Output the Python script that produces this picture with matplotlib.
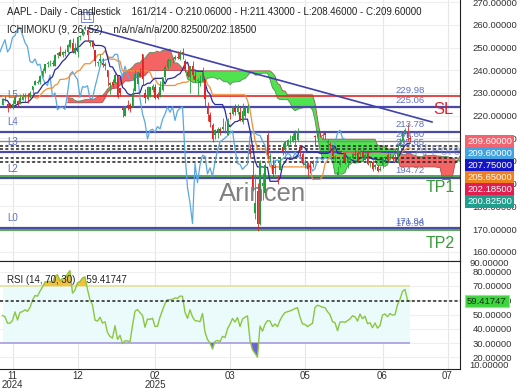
import numpy as np
import pandas as pd
import matplotlib
matplotlib.use('Agg')
import matplotlib.pyplot as plt

plt.rcParams['font.family'] = ['Liberation Sans', 'DejaVu Sans']

# AAPL daily bars, 2024-11-07 .. 2025-07-08
opens = [224.6, 227.2, 225.0, 224.6, 224.0, 225.0, 226.4, 225.3, 226.9, 228.1, 228.9, 228.1, 231.5, 233.3, 234.5, 234.8,
         237.3, 239.8, 242.9, 243.0, 242.9, 241.8, 246.9, 247.9, 246.9, 247.8, 247.9, 250.1, 252.2, 247.5, 248.0, 254.8, 255.5, 258.2, 257.8, 252.2, 252.4,
         248.9, 243.4, 244.3, 243.0, 241.9, 240.0, 233.5, 234.8, 234.6, 237.4, 232.1, 224.0, 219.8, 224.7, 224.8, 224.0, 230.9, 234.1, 238.7, 247.2,
         230.0, 227.3, 228.5, 231.3, 232.6, 229.6, 228.2, 231.2, 236.9, 241.3, 244.2, 244.7, 244.9, 246.0, 244.9, 248.0, 244.3, 239.4, 237.0,
         241.8, 237.7, 235.4, 234.4, 235.1, 235.5, 223.8, 220.1, 216.0, 211.3, 213.3, 214.2, 214.2, 214.0, 211.6, 221.0, 220.8, 223.5, 221.4, 221.7, 217.0,
         219.8, 221.3, 205.5, 193.9, 177.2, 186.7, 172.0, 189.1, 186.1, 211.4, 201.9, 198.4, 197.2, 193.3, 196.1, 206.0, 204.9, 206.4, 210.0, 208.7, 209.3,
         209.1, 206.1, 203.1, 198.2, 199.2, 197.7, 199.0, 211.0, 210.4, 212.4, 211.0, 212.4, 207.9, 207.7, 205.2, 200.7, 193.7, 198.3, 200.6, 203.6, 199.4,
         200.3, 201.4, 202.9, 203.5, 203.0, 204.4, 200.6, 203.5, 199.1, 199.7, 197.3, 197.2, 195.9, 198.2, 201.6, 202.6, 201.5, 201.4, 201.9, 202.0,
         206.7, 208.9, 212.1, 212.7, 210.06]
highs = [227.9, 228.7, 225.7, 225.6, 226.7, 228.9, 226.9, 229.7, 230.2, 229.9, 230.2, 230.7, 233.2, 235.6, 235.7, 237.8,
         240.8, 242.8, 244.1, 244.5, 244.6, 247.2, 248.2, 250.8, 248.7, 249.3, 251.4, 253.8, 254.3, 252.0, 255.0, 255.7, 258.2, 260.1, 258.7, 253.5, 253.3,
         249.1, 244.2, 247.3, 245.6, 243.7, 240.2, 234.7, 236.1, 239.0, 238.0, 232.3, 224.4, 224.1, 227.0, 225.6, 232.2, 240.2, 239.9, 240.8, 247.2,
         231.8, 233.1, 232.7, 233.8, 234.0, 230.6, 235.2, 237.0, 242.3, 245.6, 245.2, 246.0, 246.8, 248.7, 248.9, 250.0, 245.0, 242.5, 242.1,
         244.0, 240.1, 236.6, 237.9, 241.4, 236.2, 225.8, 221.8, 216.8, 214.0, 215.2, 215.2, 218.8, 217.5, 218.8, 221.5, 224.1, 225.0, 225.0, 223.8, 225.6,
         223.7, 225.2, 207.5, 199.9, 194.2, 190.3, 200.6, 194.8, 199.5, 212.9, 203.5, 200.7, 198.8, 193.8, 201.6, 208.0, 208.8, 209.8, 211.5, 212.2, 213.6,
         214.6, 207.0, 204.1, 200.7, 199.4, 200.1, 200.5, 211.3, 213.4, 213.0, 213.0, 212.6, 209.5, 208.5, 207.0, 202.8, 197.7, 200.7, 202.7, 203.8, 202.0,
         202.1, 203.8, 206.2, 204.8, 205.7, 206.0, 204.4, 204.5, 199.7, 200.4, 198.7, 198.4, 197.6, 201.7, 202.3, 203.4, 203.7, 202.6, 203.2, 207.4,
         210.2, 213.3, 214.7, 216.2, 211.43]
lows = [224.6, 226.4, 221.5, 223.4, 222.8, 225.0, 224.3, 225.2, 226.7, 225.9, 225.7, 228.0, 229.7, 233.3, 233.8, 234.0,
        237.2, 238.9, 241.3, 242.1, 242.1, 241.8, 245.3, 246.3, 245.7, 246.2, 247.7, 249.8, 247.7, 247.1, 245.7, 253.5, 255.3, 257.6, 253.1, 250.8, 249.4,
        241.8, 241.9, 243.2, 241.4, 240.1, 233.0, 229.7, 232.5, 234.4, 228.0, 228.5, 219.4, 219.8, 222.3, 221.4, 224.0, 230.8, 234.0, 237.2, 233.4,
        225.7, 226.7, 228.3, 230.4, 227.3, 227.2, 228.1, 230.7, 235.6, 240.7, 241.8, 243.2, 244.6, 245.2, 244.4, 244.9, 239.1, 237.1, 230.2,
        236.1, 234.7, 229.2, 233.2, 234.8, 224.2, 217.5, 214.9, 208.4, 209.6, 210.0, 211.5, 213.8, 212.2, 211.3, 218.6, 220.1, 220.5, 220.6, 217.7, 216.2,
        218.8, 221.0, 201.2, 187.3, 174.6, 169.2, 171.9, 183.0, 186.1, 201.2, 199.8, 192.4, 194.4, 189.8, 196.0, 202.8, 202.9, 206.2, 207.5, 208.4, 206.7,
        208.9, 202.2, 198.2, 197.0, 193.3, 194.7, 197.5, 206.8, 209.0, 210.6, 209.5, 209.7, 204.3, 205.0, 200.7, 199.7, 193.5, 197.4, 199.9, 198.5, 196.8,
        200.1, 201.0, 202.1, 200.2, 202.1, 200.0, 200.6, 198.4, 197.4, 195.7, 196.6, 195.2, 195.6, 196.9, 199.0, 200.2, 200.6, 199.5, 200.0, 199.3,
        206.1, 208.1, 211.8, 208.8, 208.46]
closes = [227.5, 227.0, 224.2, 224.2, 225.1, 228.2, 225.0, 228.0, 228.3, 229.0, 228.5, 229.9, 232.9, 235.1, 234.9, 237.3,
          239.6, 242.7, 243.0, 243.0, 242.8, 246.8, 247.8, 246.5, 248.0, 248.1, 251.0, 253.5, 248.1, 249.8, 254.5, 255.3, 258.2, 259.0, 255.6, 252.2, 250.4,
          243.9, 243.4, 245.0, 242.2, 242.7, 236.9, 234.4, 233.3, 237.9, 228.3, 230.0, 222.6, 223.8, 223.7, 222.8, 229.9, 238.3, 239.4, 237.6, 236.0,
          228.0, 232.8, 232.5, 233.2, 227.6, 227.7, 232.6, 236.9, 241.5, 244.6, 244.5, 244.9, 245.8, 245.6, 247.1, 247.0, 240.4, 237.3, 241.8,
          238.0, 235.9, 235.7, 235.3, 239.1, 227.5, 220.8, 217.0, 209.7, 213.5, 214.0, 212.7, 215.2, 214.1, 218.3, 220.7, 223.8, 221.5, 223.9, 217.9, 222.1,
          223.2, 223.9, 203.2, 188.4, 181.5, 172.4, 198.9, 190.4, 198.2, 202.5, 202.1, 194.3, 197.0, 193.2, 199.7, 204.6, 208.4, 209.3, 210.1, 211.2, 212.5,
          213.3, 205.4, 198.9, 198.5, 196.3, 197.5, 198.5, 210.8, 212.9, 212.3, 211.5, 211.3, 208.8, 206.9, 202.1, 201.4, 195.3, 200.2, 200.4, 200.0, 200.9,
          201.7, 203.3, 202.8, 200.6, 203.9, 201.5, 202.7, 198.8, 199.2, 196.5, 198.4, 195.6, 196.6, 201.0, 201.5, 200.3, 201.6, 201.0, 201.1, 205.2,
          207.8, 212.4, 213.6, 210.0, 209.6]

# bars before the visible window (2024-08-23 .. 2024-11-06), used only to warm up the indicators
warmup_highs = [228.2, 227.3, 228.9, 229.9, 232.9, 230.4, 229.0, 221.8, 225.5, 225.2, 221.3, 221.5, 223.1, 223.5, 223.0,
                217.2, 217.0, 222.7, 229.8, 233.1, 229.5, 229.4, 227.3, 228.5, 229.5, 233.0, 229.7, 227.4, 226.8, 228.0, 225.7,
                226.0, 229.8, 229.5, 229.4, 231.7, 237.5, 232.1, 233.9, 236.2, 236.9, 236.2, 235.1, 230.8, 233.2, 234.7, 234.3,
                233.5, 229.8, 225.4, 222.8, 223.9, 226.0]
warmup_lows = [224.3, 223.9, 224.9, 225.7, 228.9, 227.5, 221.2, 217.5, 221.0, 220.0, 216.7, 216.7, 217.6, 219.8, 220.8,
               213.9, 214.3, 217.5, 224.6, 227.6, 225.8, 225.3, 224.0, 225.4, 227.3, 229.7, 223.7, 223.0, 223.3, 224.1, 221.3,
               223.3, 224.8, 227.2, 227.3, 228.6, 232.4, 229.8, 230.5, 234.0, 234.5, 232.6, 227.8, 228.4, 229.6, 232.6, 232.3,
               229.6, 225.4, 220.3, 219.7, 221.1, 221.2]
warmup_closes = [226.8, 227.2, 228.0, 226.5, 229.8, 229.0, 222.8, 220.9, 222.4, 220.8, 220.9, 220.1, 222.7, 222.8, 222.5,
                 216.3, 216.8, 220.7, 228.9, 228.2, 226.5, 227.4, 226.4, 227.5, 227.8, 233.0, 226.2, 226.8, 225.7, 226.8, 221.7,
                 225.8, 229.5, 229.0, 227.6, 231.3, 233.9, 231.8, 232.2, 235.0, 236.5, 235.9, 230.8, 230.6, 231.4, 233.4, 233.7,
                 230.1, 225.9, 222.9, 222.0, 223.5, 222.7]

tick_pos = [4, 30, 61, 91, 121, 152, 178]
tick_labels = ['11\n2024', '12', '02\n2025', '03', '05', '06', '07']

# horizontal levels drawn on the chart
sl_level = 228.8
navy_levels = [224.0, 212.9, 203.8, 192.4, 170.6]
gray_level = 208.8
dotted_levels = [206.6, 205.2, 201.2, 199.7]
green_levels = [193.3, 169.6]
trend_x = [34.2, 171.8]
trend_y = [258.7, 217.2]

rsi_last = 59.41747

n = len(closes)
k = len(warmup_closes)
x = np.arange(n)
c = pd.Series(closes)
o = pd.Series(opens)

# ichimoku (9, 26, 52) on the full history, shown from the first visible bar
H = pd.Series(warmup_highs + highs)
L = pd.Series(warmup_lows + lows)
C = pd.Series(warmup_closes + closes)
tenkan = ((H.rolling(9).max() + L.rolling(9).min()) / 2).iloc[k:].to_numpy()
kijun = ((H.rolling(26).max() + L.rolling(26).min()) / 2).iloc[k:].to_numpy()
span_a = (tenkan + kijun) / 2
span_b = ((H.rolling(52).max() + L.rolling(52).min()) / 2).iloc[k:].to_numpy()

# RSI 14 (Wilder)
d = C.diff()
gain = d.clip(lower=0).ewm(alpha=1 / 14, adjust=False).mean()
loss = (-d.clip(upper=0)).ewm(alpha=1 / 14, adjust=False).mean()
rsi = (100 - 100 / (1 + gain / loss)).iloc[k:].to_numpy()

fig = plt.figure(figsize=(5.2, 3.9), dpi=100)
ax = fig.add_axes([0, 1 - 261 / 390, 460 / 520, 261 / 390])
axr = fig.add_axes([0, 1 - 369 / 390, 460 / 520, 108 / 390], sharex=ax)

# grid
for t in tick_pos:
    ax.axvline(t, color='#e6e6e6', lw=0.8, zorder=0)
    axr.axvline(t, color='#e6e6e6', lw=0.8, zorder=0)
for p in range(160, 280, 10):
    ax.axhline(p, color='#efefef', lw=0.8, zorder=0)

# cloud
xs = x + 26
ax.fill_between(xs, span_a, span_b, where=span_a >= span_b, color='#f46464', interpolate=True, lw=0, zorder=1)
ax.fill_between(xs, span_a, span_b, where=span_a < span_b, color='#4fe44f', interpolate=True, lw=0, zorder=1)
ax.plot(xs, span_a, color='#5b8a5b', lw=0.6, zorder=1.5)
ax.plot(xs, span_b, color='#b04a4a', lw=0.6, zorder=1.5)

# levels
ax.axhline(sl_level, color='#e02828', lw=1.2, zorder=2)
for p in navy_levels:
    ax.axhline(p, color='#4a4aa8', lw=1.6, zorder=2)
ax.axhline(gray_level, color='#8a8a8a', lw=1.0, zorder=2)
for p in dotted_levels:
    ax.axhline(p, color='#222222', lw=1.1, ls=(0, (2, 1.5)), zorder=2)
for p in green_levels:
    ax.axhline(p, color='#3c9a3c', lw=1.2, zorder=2)
ax.plot(trend_x, trend_y, color='#4040b0', lw=1.2, zorder=2)

# ichimoku lines
ax.plot(x - 26, c, color='#5aa8e2', lw=0.9, zorder=3)
ax.plot(x, kijun, color='#f0913a', lw=0.9, zorder=3)
ax.plot(x, tenkan, color='#2a2aa0', lw=0.9, zorder=3)

# candles
up = c >= o
cols = np.where(up, '#1f9e3a', '#e02424')
ax.vlines(x, lows, highs, colors=cols, lw=0.6, zorder=4)
body = (c - o).abs().clip(lower=0.25)
ax.bar(x, body, bottom=np.minimum(o, c), width=0.65, color=cols, lw=0, zorder=4)

ax.set_xlim(-1, 183)
ax.set_ylim(155.9, 271)

# labels on levels
lab_col = '#5d70c4'
for txt, p in [('L5', 229.1), ('L4', 217.2), ('L3', 208.4), ('L2', 196.5), ('L0', 174.9)]:
    ax.text(1.8, p, txt, color=lab_col, fontsize=7, va='center', ha='left', zorder=5)
ax.text(33.8, 263.5, 'L1', color=lab_col, fontsize=6.5, va='center', ha='center', zorder=5,
        bbox=dict(boxstyle='square,pad=0.1', fc='none', ec=lab_col, lw=0.6))
for txt, p in [('229.98', 231.3), ('225.06', 226.9), ('213.78', 215.9), ('209.60', 211.9),
               ('205.65', 208.0), ('194.72', 195.6), ('171.84', 173.1), ('170.98', 172.3)]:
    ax.text(157, p, txt, color=lab_col, fontsize=6.8, va='center', ha='left', zorder=5)
ax.text(165, 204.5, 'Al Pore', color='#7080c0', fontsize=10, alpha=0.6, va='center', ha='left', zorder=5)
ax.text(172.2, 222.6, 'SL', color='#e02030', fontsize=12, va='center', ha='left', zorder=5)
ax.text(169.2, 188.2, 'TP1', color='#3a9a3a', fontsize=11.5, va='center', ha='left', zorder=5)
ax.text(169.2, 163.5, 'TP2', color='#3a9a3a', fontsize=11.5, va='center', ha='left', zorder=5)
ax.text(104, 185.5, 'Arincen', color='#6a6a6a', fontsize=18.5, alpha=0.85, va='center', ha='center', zorder=5)

ax.text(0.015, 0.955, 'AAPL - Daily - Candlestick    161/214 - O:210.06000 - H:211.43000 - L:208.46000 - C:209.60000',
        transform=ax.transAxes, fontsize=7, color='#222222', va='center', zorder=6)
ax.text(0.015, 0.885, 'ICHIMOKU (9, 26, 52)    n/a/n/a/n/a/200.82500/202.18500',
        transform=ax.transAxes, fontsize=7, color='#222222', va='center', zorder=6)

# price axis
ax.yaxis.tick_right()
ax.set_yticks(range(160, 280, 10))
ax.set_yticklabels([f'{v:.5f}' for v in range(160, 280, 10)])
ax.tick_params(axis='y', length=0, labelsize=6.8, labelcolor='#333333', pad=9)
ax.tick_params(axis='x', length=0, labelbottom=False)
for s in ['left', 'top']:
    ax.spines[s].set_visible(False)
ax.spines['right'].set_color('#222222')
ax.spines['bottom'].set_color('#222222')

# RSI panel
axr.fill_between(x, 30, 70, color='#ebfbfb', lw=0, zorder=1)
axr.hlines(70, -1, x[-1], color='#e2e09a', lw=1.2, zorder=2)
axr.hlines(30, -1, x[-1], color='#a89be2', lw=1.2, zorder=2)
for p in range(20, 90, 10):
    axr.axhline(p, color='#efefef', lw=0.8, zorder=0)
axr.fill_between(x, rsi, 70, where=rsi > 70, color='#f5c03c', interpolate=True, lw=0, zorder=2)
axr.fill_between(x, rsi, 30, where=rsi < 30, color='#6f62d8', interpolate=True, lw=0, zorder=2)
axr.plot(x, rsi, color='#8cc63f', lw=1.0, zorder=3)
axr.axhline(rsi_last, color='#222222', lw=1.1, ls=(0, (2, 1.5)), zorder=3)
axr.text(0.015, 0.82, 'RSI (14, 70, 30)    59.41747', transform=axr.transAxes, fontsize=7,
         color='#222222', va='center', zorder=6)
axr.set_ylim(11.8, 87.5)
axr.yaxis.tick_right()
axr.set_yticks(range(20, 90, 10))
axr.set_yticklabels([f'{v:.5f}' for v in range(20, 90, 10)])
axr.tick_params(axis='y', length=0, labelsize=6.8, labelcolor='#333333', pad=9)
axr.text(1.02, 85.5, '90.00000', transform=axr.get_yaxis_transform(), fontsize=6.8, color='#333333', va='center', clip_on=False)
axr.text(1.02, 14.3, '10.00000', transform=axr.get_yaxis_transform(), fontsize=6.8, color='#333333', va='center', clip_on=False)
axr.set_xticks(tick_pos)
axr.set_xticklabels(tick_labels)
axr.tick_params(axis='x', length=0, labelsize=7, labelcolor='#333333', pad=1.5)
for lab in axr.get_xticklabels():
    lab.set_linespacing(0.9)
axr.spines['left'].set_visible(False)
for s in ['right', 'bottom', 'top']:
    axr.spines[s].set_color('#222222')

# coloured value tags on the price axis
tags = [('209.60000', '#f26470', 'white'), ('209.60000', '#42a2e2', 'white'), ('207.75000', '#1414c4', 'white'),
        ('205.65000', '#f0801e', 'white'), ('202.18500', '#e01e50', 'white'), ('200.82500', '#1f9e8e', 'white')]
for i, (txt, bg, fg) in enumerate(tags):
    fig.text(467 / 520, 1 - (141.7 + 12 * i) / 390, txt, fontsize=6.8, color=fg, va='center', ha='left',
             bbox=dict(boxstyle='square,pad=0.2', fc=bg, ec='none'))
fig.text(467 / 520, 1 - 301 / 390, '59.41747', fontsize=6.8, color='#113311', va='center', ha='left',
         bbox=dict(boxstyle='square,pad=0.2', fc='#3fd43f', ec='#8fe88f', lw=0.8))

fig.savefig('out.png', dpi=100, facecolor='white')
